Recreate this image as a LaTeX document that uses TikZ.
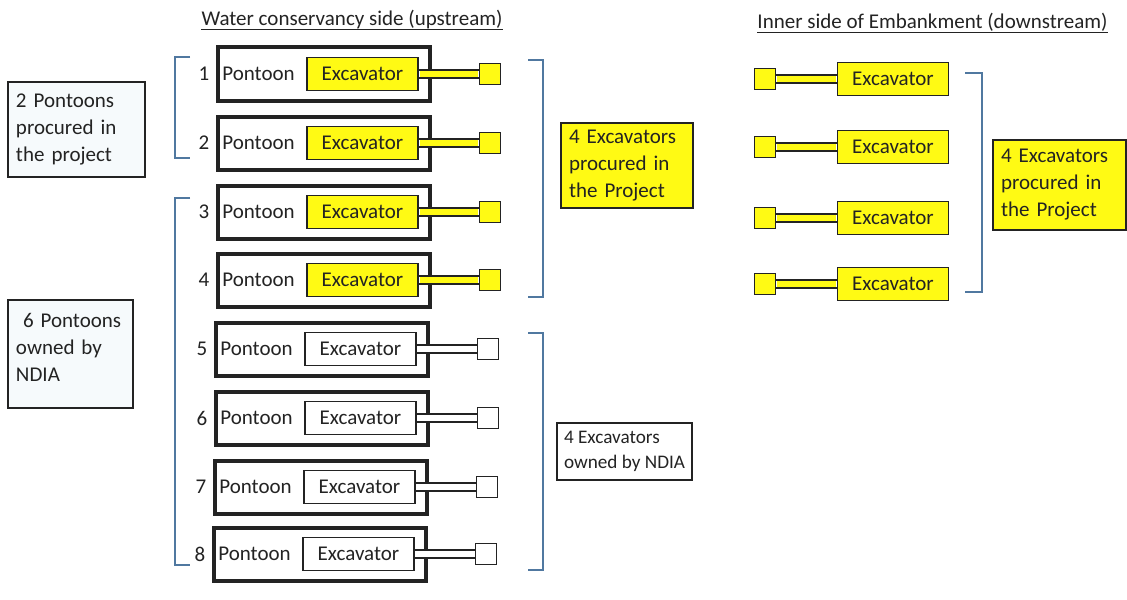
\documentclass[tikz,border=0pt]{standalone}
\usepackage{fontspec}
\setmainfont{Carlito}
\usetikzlibrary{positioning, calc}
\definecolor{digyellow}{RGB}{255,250,20}
\definecolor{bracketblue}{RGB}{80,120,160}
\definecolor{notefill}{RGB}{246,250,252}
\definecolor{inkgray}{RGB}{35,35,35}
\tikzset{
    pontoon/.style={rectangle, draw=inkgray, line width=2pt, minimum width=106pt, minimum height=26.5pt, inner sep=0pt},
    excav/.style={rectangle, draw=inkgray, line width=0.8pt, fill=#1, minimum width=55.5pt, minimum height=16.5pt, inner sep=0pt, font=\fontsize{10.5}{12.6}\selectfont, text=inkgray},
    bucket/.style={rectangle, draw=inkgray, line width=0.8pt, fill=#1, minimum size=10.5pt, inner sep=0pt},
    armline/.style={draw=inkgray, line width=0.7pt},
    numlbl/.style={inner sep=0pt, font=\fontsize{10.5}{12.6}\selectfont, text=inkgray},
    pontlbl/.style={anchor=west, inner sep=0pt, font=\fontsize{10.5}{12.6}\selectfont, text=inkgray},
    notebox/.style={rectangle, draw=inkgray, line width=0.8pt, fill=#1, align=left, inner xsep=4pt, inner ysep=0pt, font=\fontsize{10.5}{13.5}\selectfont, text=inkgray},
    sidetitle/.style={anchor=base, inner sep=0pt, font=\fontsize{10.5}{12.6}\selectfont, text=inkgray},
    uline/.style={draw=inkgray, line width=0.6pt},
    brace/.style={draw=bracketblue, line width=0.6pt}
}
\begin{document}
\begin{tikzpicture}[x=0.5pt, y=-0.5pt]
    \fill[white] (0,0) rectangle (1127,599);
    \useasboundingbox (0,0) rectangle (1127,599);

    % titles
    \node[sidetitle] (uptitle) at (352,26) {Water conservancy side (upstream)};
    \node[sidetitle] (downtitle) at (932.5,29) {Inner side of Embankment (downstream)};
    \draw[uline] ([yshift=-1.6pt]uptitle.base west) -- ([yshift=-1.6pt]uptitle.base east);
    \draw[uline] ([yshift=-1.8pt]downtitle.base west) -- ([yshift=-1.8pt]downtitle.base east);

    % upstream pontoons
    \foreach \i/\y/\dx/\col in {1/74/0/digyellow, 2/143/0/digyellow, 3/212/0/digyellow, 4/280/0/digyellow,
                                5/349/-2/white, 6/418/-2/white, 7/487/-3/white, 8/554/-4/white} {
        \node[pontoon] (p\i) at (324+\dx,\y) {};
        \node[numlbl] (n\i) at (204+\dx,\y) {\i};
        \node[pontlbl] (pl\i) at (222+\dx,\y) {Pontoon};
        \node[excav=\col] (ex\i) at (362.5+\dx,\y) {Excavator};
        \node[bucket=\col] (bk\i) at (490+\dx,\y) {};
        \fill[\col] ([xshift=0.4pt,yshift=2pt]ex\i.east) rectangle ([xshift=-0.4pt,yshift=-2pt]bk\i.west);
        \draw[armline] ([yshift=2pt]ex\i.east) -- ([yshift=2pt]bk\i.west)
                       ([yshift=-2pt]ex\i.east) -- ([yshift=-2pt]bk\i.west);
    }

    % downstream excavators
    \foreach \j/\y in {1/79, 2/147, 3/218, 4/284} {
        \node[bucket=digyellow] (dbk\j) at (765,\y) {};
        \node[excav=digyellow] (dex\j) at (893,\y) {Excavator};
        \fill[digyellow] ([xshift=0.4pt,yshift=2pt]dbk\j.east) rectangle ([xshift=-0.4pt,yshift=-2pt]dex\j.west);
        \draw[armline] ([yshift=2pt]dbk\j.east) -- ([yshift=2pt]dex\j.west)
                       ([yshift=-2pt]dbk\j.east) -- ([yshift=-2pt]dex\j.west);
    }

    % brackets
    \draw[brace] (190,57) -- (175,57) -- (175,158) -- (190,158);
    \draw[brace] (190,198) -- (175,198) -- (175,565) -- (190,565);
    \draw[brace] (528,60) -- (543,60) -- (543,297) -- (528,297);
    \draw[brace] (528,333) -- (543,333) -- (543,570) -- (528,570);
    \draw[brace] (965,73) -- (982,73) -- (982,292) -- (965,292);

    % notes
    \node[notebox=notefill, text width=60.5pt, minimum height=47.5pt] (pnote1) at (76.5,129.5) {2 Pontoons\\procured in\\the project};
    \node[notebox=notefill, text width=54.5pt, minimum height=54pt] (pnote2) at (70.5,354) {\ 6 Pontoons\\owned by\\NDIA\\[-6.75pt]\mbox{}};
    \node[notebox=digyellow, text width=58pt, minimum height=42.5pt] (enote1) at (627,165.5) {4 Excavators\\procured in\\the Project};
    \node[notebox=white, inner xsep=3.5pt, minimum width=67.5pt, minimum height=28.5pt, font=\fontsize{9.6}{12.5}\selectfont] (enote2) at (624.5,451.5) {4 Excavators\\owned by NDIA};
    \node[notebox=digyellow, text width=58.5pt, minimum height=45pt] (enote3) at (1059.5,185) {4 Excavators\\procured in\\the Project};
\end{tikzpicture}
\end{document}
